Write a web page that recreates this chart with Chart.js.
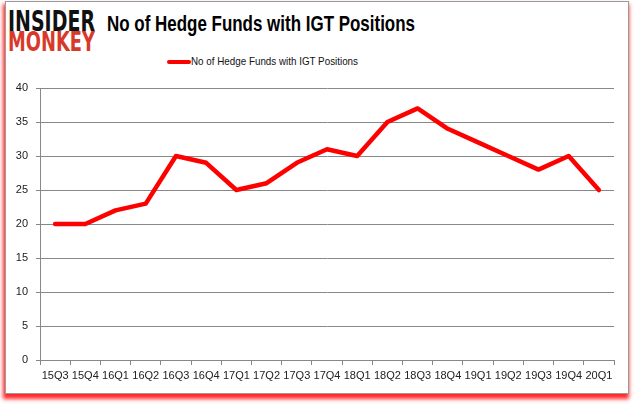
<!DOCTYPE html>
<html>
<head>
<meta charset="utf-8">
<script src="https://cdn.jsdelivr.net/npm/chart.js@4"></script>
<style>
  html, body { margin: 0; padding: 0; background: #fff; }
  body { width: 635px; height: 405px; position: relative; overflow: hidden; font-family: "Liberation Sans", Arial, sans-serif; }
  .frame {
    position: absolute; left: 5px; top: 1px; width: 622px; height: 391px;
    border: 1px solid #9a9a9a; background: #fff;
    box-shadow: -1px 4px 4px 1px rgba(255, 0, 0, 0.85);
  }
  .fit { position: absolute; white-space: nowrap; transform-origin: 0 0; }
  .logo1 { left: 8px; top: 4px; font: 900 29px "DejaVu Sans", sans-serif; color: #111; }
  .logo2 { left: 8px; top: 27px; font: 900 26px "DejaVu Sans", sans-serif; color: #d83a2a; }
  .title { left: 107px; top: 11px; font: bold 22px "Liberation Sans", Arial, sans-serif; color: #000; }
  .legend-line { position: absolute; left: 167px; top: 60px; width: 24px; height: 4px; background: #ff0000; border-radius: 2px; }
  .legend-text { left: 191px; top: 55px; font: 11px "Liberation Sans", Arial, sans-serif; color: #111; }
  #wrap { position: absolute; left: 0; top: 0; width: 635px; height: 405px; }
</style>
</head>
<body>
<div class="frame"></div>
<div class="fit logo1" data-w="87">INSIDER</div>
<div class="fit logo2" data-w="87">MONKEY</div>
<div class="fit title" data-w="308">No of Hedge Funds with IGT Positions</div>
<div class="legend-line"></div>
<div class="fit legend-text" data-w="167">No of Hedge Funds with IGT Positions</div>
<div id="wrap"><canvas id="chart"></canvas></div>
<script>
// quarters on the x axis
const quarters = ['15Q3', '15Q4', '16Q1', '16Q2', '16Q3', '16Q4', '17Q1', '17Q2', '17Q3', '17Q4',
  '18Q1', '18Q2', '18Q3', '18Q4', '19Q1', '19Q2', '19Q3', '19Q4', '20Q1'];
// number of hedge funds holding IGT
const hedgeFunds = [20, 20, 22, 23, 30, 29, 25, 26, 29, 31, 30, 35, 37, 34, 32, 30, 28, 30, 25];
const seriesName = 'No of Hedge Funds with IGT Positions';

// squeeze the html texts to the widths seen in the picture
document.querySelectorAll('.fit').forEach(el => {
  const w = el.getBoundingClientRect().width;
  const target = +el.dataset.w;
  el.style.transform = `scaleX(${target / w})`;
});

const tickFont = { family: '"Liberation Sans", Arial, sans-serif', size: 11 };

new Chart(document.getElementById('chart'), {
  type: 'line',
  data: {
    labels: quarters,
    datasets: [{
      label: seriesName,
      data: hedgeFunds,
      borderColor: '#ff0000',
      backgroundColor: '#ff0000',
      borderWidth: 4.5,
      pointRadius: 0,
      tension: 0,
      borderCapStyle: 'round',
      borderJoinStyle: 'round'
    }]
  },
  options: {
    responsive: true,
    maintainAspectRatio: false,
    animation: false,
    layout: { padding: { top: 88, right: 21, left: 0, bottom: 0 } },
    plugins: {
      legend: { display: false },
      tooltip: { enabled: false }
    },
    scales: {
      x: {
        offset: true,
        grid: { display: true, drawOnChartArea: false, drawTicks: true, tickLength: 5, color: '#888', offset: true },
        border: { display: true, color: '#888', width: 1 },
        ticks: { color: '#222', font: tickFont, maxRotation: 0, minRotation: 0, autoSkip: false, padding: 4 },
        afterFit: (scale) => { scale.height = 45; }
      },
      y: {
        min: 0,
        max: 40,
        grid: { color: '#888', lineWidth: 1, drawTicks: true, tickLength: 4 },
        border: { display: true, color: '#888', width: 1 },
        ticks: { stepSize: 5, color: '#222', font: tickFont, padding: 8 },
        afterFit: (scale) => { scale.width = 40; }
      }
    }
  }
});
</script>
</body>
</html>
